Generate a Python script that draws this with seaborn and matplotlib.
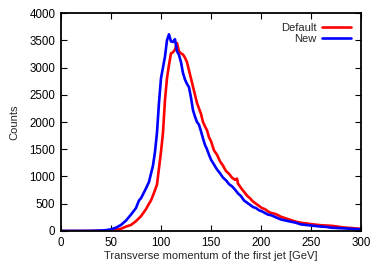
import numpy as np
import pandas as pd
import matplotlib
matplotlib.use("Agg")
import matplotlib.pyplot as plt
import seaborn as sns

# ---------------------------
# Data
# ---------------------------
new_pt = [0, 10, 20, 30, 40, 45, 50, 55, 60, 65, 70, 75, 78, 80, 85, 88, 90, 92, 94, 96,
          98, 100, 102, 104, 106, 108, 110, 112, 114, 116, 118, 120, 122, 124, 126, 128,
          130, 132, 134, 136, 138, 140, 142, 144, 146, 148, 150, 153, 156, 159, 162, 165,
          168, 171, 174, 177, 180, 183, 186, 189, 192, 195, 198, 201, 204, 207, 210, 215,
          220, 225, 230, 235, 240, 245, 250, 255, 260, 265, 270, 275, 280, 285, 290, 295, 300]
new_counts = [0, 0, 0, 2, 8, 15, 30, 60, 110, 190, 300, 420, 560, 600, 780, 900, 1050, 1200,
              1450, 1800, 2350, 2800, 3000, 3200, 3500, 3610, 3480, 3470, 3520, 3300, 3230,
              3100, 2900, 2780, 2700, 2640, 2450, 2220, 2100, 2000, 1950, 1830, 1700, 1580,
              1500, 1400, 1310, 1220, 1130, 1060, 980, 930, 860, 820, 760, 690, 640, 560, 520,
              480, 440, 420, 380, 360, 330, 300, 290, 250, 210, 190, 170, 150, 120, 110, 100,
              90, 80, 75, 60, 55, 50, 45, 40, 35, 30]

default_pt = [0, 30, 40, 50, 55, 60, 65, 70, 75, 80, 85, 88, 90, 92, 94, 96, 98, 100, 102,
              104, 106, 108, 110, 112, 114, 116, 118, 120, 122, 124, 126, 128, 130, 132, 134,
              136, 138, 140, 142, 144, 146, 148, 150, 153, 156, 159, 162, 165, 168, 171, 174,
              176, 177, 180, 183, 186, 189, 192, 195, 198, 201, 204, 207, 210, 213, 216, 220,
              225, 230, 235, 240, 245, 250, 255, 260, 265, 270, 275, 280, 285, 290, 295, 300]
default_counts = [0, 0, 3, 10, 20, 40, 80, 110, 180, 270, 400, 500, 560, 650, 750, 850, 1150,
                  1450, 1800, 2400, 2800, 3050, 3260, 3280, 3330, 3450, 3300, 3260, 3240, 3180,
                  3100, 2950, 2800, 2650, 2500, 2350, 2250, 2150, 2000, 1920, 1850, 1720, 1650,
                  1480, 1400, 1280, 1200, 1100, 1050, 980, 940, 960, 870, 790, 720, 650, 600,
                  540, 500, 460, 420, 400, 360, 330, 320, 300, 260, 230, 200, 170, 150, 140,
                  125, 115, 105, 100, 95, 85, 70, 60, 55, 45, 40]

df = pd.concat([
    pd.DataFrame({'pt': default_pt, 'counts': default_counts, 'sample': 'Default'}),
    pd.DataFrame({'pt': new_pt, 'counts': new_counts, 'sample': 'New'}),
], ignore_index=True)

# ---------------------------
# Plot
# ---------------------------
sns.set_style("ticks")
plt.rcParams['font.family'] = ['Liberation Sans', 'DejaVu Sans']

fig = plt.figure(figsize=(3.81, 2.67), dpi=100)
ax = fig.add_axes([0.160, 0.135, 0.7875, 0.816])

sns.lineplot(data=df, x='pt', y='counts', hue='sample', hue_order=['Default', 'New'],
             palette={'Default': '#ff0000', 'New': '#0000ff'}, linewidth=1.9,
             estimator=None, sort=False, ax=ax)

ax.set_xlim(0, 300)
ax.set_ylim(0, 4000)
ax.set_xticks(np.arange(0, 301, 50))
ax.set_yticks(np.arange(0, 4001, 500))
ax.tick_params(direction='in', top=True, right=True, length=4, width=0.8,
               labelsize=8.3, colors='black', pad=4)
for s in ax.spines.values():
    s.set_linewidth(1.3)
    s.set_color('black')

ax.set_xlabel('Transverse momentum of the first jet [GeV]', fontsize=8.0, labelpad=2)
ax.set_ylabel('Counts', fontsize=8.0, labelpad=7)

leg = ax.legend(loc='upper right', frameon=False, markerfirst=False, fontsize=8.0,
                handlelength=2.6, handletextpad=0.5, labelspacing=0.05,
                borderaxespad=0.9, borderpad=0.0)
for t in leg.get_texts():
    t.set_ha('right')
leg._legend_box.align = 'right'

fig.savefig('out.png', dpi=100)
